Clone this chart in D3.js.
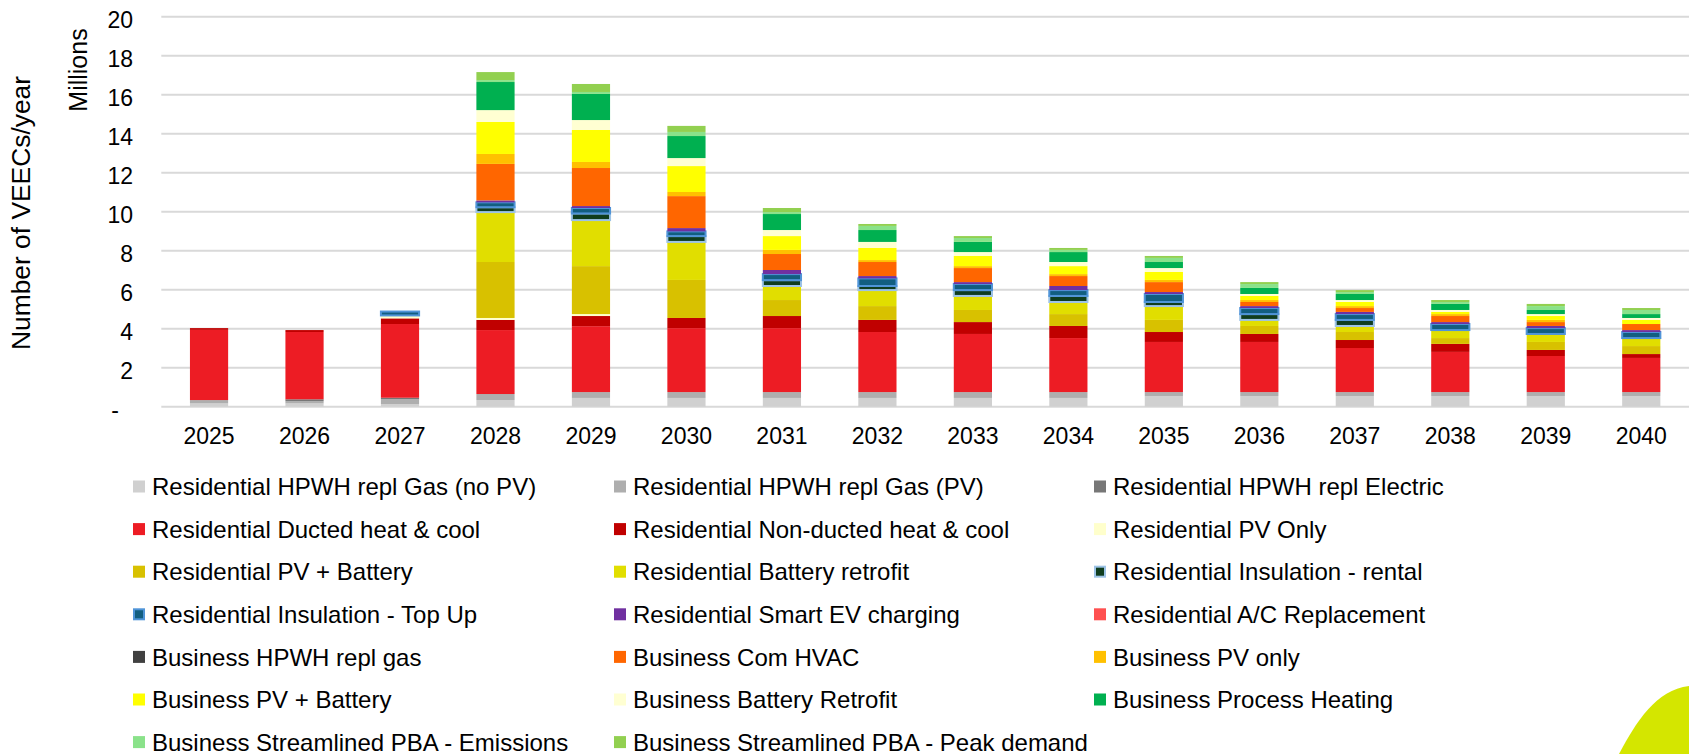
<!DOCTYPE html>
<html>
<head>
<meta charset="utf-8">
<script src="https://cdn.jsdelivr.net/npm/d3@7"></script>
<style>
  html, body { margin: 0; padding: 0; background: #ffffff; }
  svg { display: block; font-family: "Liberation Sans", Arial, sans-serif; }
</style>
</head>
<body>
<svg id="chart" width="1689" height="754"></svg>
<script>
// ---- Data (millions of VEECs per year) ----
const years = ["2025","2026","2027","2028","2029","2030","2031","2032","2033","2034","2035","2036","2037","2038","2039","2040"];
const yTicks = [0, 2, 4, 6, 8, 10, 12, 14, 16, 18, 20];

const resHpwhGasNoPv   = [0.17, 0.17, 0.13, 0.34, 0.45, 0.45, 0.45, 0.45, 0.45, 0.45, 0.55, 0.55, 0.55, 0.55, 0.55, 0.55];
const resHpwhGasPv     = [0.17, 0.11, 0.26, 0.31, 0.30, 0.30, 0.30, 0.30, 0.30, 0.30, 0.20, 0.20, 0.20, 0.20, 0.20, 0.20];
const resHpwhElectric  = [0.00, 0.10, 0.07, 0, 0, 0, 0, 0, 0, 0, 0, 0, 0, 0, 0, 0];
const resDucted        = [3.60, 3.45, 3.78, 3.28, 3.38, 3.28, 3.28, 3.08, 2.98, 2.77, 2.57, 2.57, 2.26, 2.06, 1.85, 1.75];
const resNonDucted     = [0.09, 0.10, 0.29, 0.52, 0.52, 0.52, 0.62, 0.62, 0.61, 0.62, 0.51, 0.41, 0.41, 0.41, 0.31, 0.20];
const resPvOnly        = [0, 0, 0.15, 0.10, 0.10, 0, 0, 0, 0, 0, 0, 0, 0, 0, 0, 0];
const resPvBattery     = [0, 0, 0, 2.87, 2.46, 1.95, 0.82, 0.71, 0.62, 0.61, 0.62, 0.41, 0.41, 0.30, 0.41, 0.41];
const resBattRetrofit  = [0, 0, 0, 2.56, 2.36, 1.95, 0.72, 0.82, 0.72, 0.62, 0.71, 0.31, 0.31, 0.41, 0.41, 0.41];
const resInsulRental   = [0, 0, 0, 0.25, 0.34, 0.30, 0.30, 0.21, 0.30, 0.31, 0.21, 0.30, 0.31, 0, 0, 0];
const resInsulTopUp    = [0, 0, 0.20, 0.25, 0.28, 0.24, 0.31, 0.39, 0.31, 0.30, 0.41, 0.31, 0.30, 0.31, 0.30, 0.31];
const resSmartEv       = [0, 0, 0, 0.10, 0.10, 0.17, 0.21, 0.12, 0.10, 0.21, 0.10, 0.10, 0.11, 0.10, 0.11, 0.10];
const resAcReplace     = [0, 0, 0, 0, 0, 0, 0, 0, 0, 0, 0, 0, 0, 0, 0, 0];
const busHpwhGas       = [0, 0, 0, 0, 0, 0, 0, 0, 0, 0, 0, 0, 0, 0, 0, 0];
const busComHvac       = [0, 0, 0, 1.87, 1.95, 1.64, 0.82, 0.72, 0.72, 0.51, 0.51, 0.21, 0.20, 0.31, 0.20, 0.31];
const busPvOnly        = [0, 0, 0, 0.51, 0.31, 0.21, 0.21, 0.10, 0.10, 0.10, 0.11, 0.10, 0.10, 0.10, 0.11, 0];
const busPvBattery     = [0, 0, 0, 1.64, 1.64, 1.33, 0.71, 0.62, 0.52, 0.41, 0.41, 0.21, 0.21, 0.11, 0.20, 0.21];
const busBattRetrofit  = [0, 0, 0, 0.61, 0.51, 0.41, 0.31, 0.31, 0.20, 0.21, 0.20, 0.10, 0.10, 0.10, 0.10, 0.10];
const busProcessHeat   = [0, 0, 0, 1.44, 1.34, 1.13, 0.82, 0.61, 0.52, 0.51, 0.31, 0.31, 0.31, 0.31, 0.21, 0.20];
const busPbaEmissions  = [0, 0, 0, 0.10, 0.10, 0.21, 0.10, 0.21, 0.20, 0.11, 0.21, 0.20, 0.10, 0.10, 0.20, 0.21];
const busPbaPeak       = [0, 0, 0, 0.41, 0.41, 0.31, 0.21, 0.10, 0.10, 0.10, 0.10, 0.10, 0.10, 0.10, 0.11, 0.10];

const seriesNames = [
  "Residential HPWH repl Gas (no PV)", "Residential HPWH repl Gas (PV)", "Residential HPWH repl Electric",
  "Residential Ducted heat & cool", "Residential Non-ducted heat & cool", "Residential PV Only",
  "Residential PV + Battery", "Residential Battery retrofit", "Residential Insulation - rental",
  "Residential Insulation - Top Up", "Residential Smart EV charging", "Residential A/C Replacement",
  "Business HPWH repl gas", "Business Com HVAC", "Business PV only",
  "Business PV + Battery", "Business Battery Retrofit", "Business Process Heating",
  "Business Streamlined PBA - Emissions", "Business Streamlined PBA - Peak demand"
];
const seriesValues = [
  resHpwhGasNoPv, resHpwhGasPv, resHpwhElectric, resDucted, resNonDucted, resPvOnly,
  resPvBattery, resBattRetrofit, resInsulRental, resInsulTopUp, resSmartEv, resAcReplace,
  busHpwhGas, busComHvac, busPvOnly, busPvBattery, busBattRetrofit, busProcessHeat,
  busPbaEmissions, busPbaPeak
];

// ---- Styles ----
const fills = [
  "#d0d0d0", "#aeaeae", "#777777", "#ed1c24", "#c00000", "#ffffcc",
  "#d8c100", "#e1de00", "#0f3d1e", "#125e80", "#7030a0", "#ff5050",
  "#404040", "#ff6600", "#ffc000", "#ffff00", "#ffffd2", "#00b050",
  "#8ae28a", "#92d050"
];
const strokes = {8: "#9dc3e6", 9: "#4f94d8"};

const svg = d3.select("#chart");
const W = 1689, H = 754;
const plotLeft = 161.3, plotRight = 1689, plotTop = 16.7, plotBottom = 406.7;

// ---- Table for stacking ----
const table = years.map((yr, i) => {
  const row = {year: yr};
  seriesNames.forEach((n, s) => { row[n] = seriesValues[s][i]; });
  return row;
});
const stacked = d3.stack().keys(seriesNames)(table);

const x = d3.scaleBand().domain(years).range([plotLeft, plotRight]).paddingInner(0.6).paddingOuter(0.3);
const y = d3.scaleLinear().domain([0, 20]).range([plotBottom, plotTop]);

// decorative shape bottom-right
svg.append("path")
  .attr("d", "M1619,754 C1636,722 1656,690 1689,686 L1689,754 Z")
  .attr("fill", "#d4e600");

// gridlines
svg.append("g").selectAll("line").data(yTicks).join("line")
  .attr("x1", plotLeft).attr("x2", plotRight)
  .attr("y1", d => y(d)).attr("y2", d => y(d))
  .attr("stroke", "#d9d9d9").attr("stroke-width", 2);

// y axis labels
const yAxis = d3.axisLeft(y).tickValues(yTicks).tickSize(0).tickPadding(0)
  .tickFormat(d => d === 0 ? "-" : String(d));
const yg = svg.append("g").attr("transform", `translate(133,0)`).call(yAxis);
yg.select(".domain").remove();
yg.selectAll("text")
  .attr("font-family", "Liberation Sans, Arial, sans-serif")
  .attr("font-size", 23).attr("fill", "#000")
  .attr("dy", "0.47em")
  .attr("x", d => d === 0 ? -14 : 0);

// x axis labels
const xAxis = d3.axisBottom(x).tickSize(0).tickPadding(0);
const xg = svg.append("g").attr("transform", `translate(0,${plotBottom})`).call(xAxis);
xg.select(".domain").remove();
xg.selectAll("text")
  .attr("font-family", "Liberation Sans, Arial, sans-serif")
  .attr("font-size", 23).attr("fill", "#000")
  .attr("dy", 0).attr("y", 37);

// bars
const groups = svg.append("g").selectAll("g").data(stacked).join("g")
  .attr("fill", (d, i) => fills[i])
  .attr("stroke", (d, i) => strokes[i] || "none")
  .attr("stroke-width", (d, i) => strokes[i] ? 2 : 0);
groups.selectAll("rect").data(d => d.filter(p => (p[1] - p[0]) > 0.0001).map(p => ({p, year: p.data.year})))
  .join("rect")
  .attr("x", d => x(d.year))
  .attr("width", x.bandwidth())
  .attr("y", d => y(d.p[1]))
  .attr("height", d => y(d.p[0]) - y(d.p[1]));

// axis titles
svg.append("text")
  .attr("transform", "translate(30,213) rotate(-90)")
  .attr("text-anchor", "middle")
  .attr("font-size", 25)
  .attr("textLength", 274).attr("lengthAdjust", "spacingAndGlyphs")
  .text("Number of VEECs/year");
svg.append("text")
  .attr("transform", "translate(87,70) rotate(-90)")
  .attr("text-anchor", "middle")
  .attr("font-size", 25)
  .text("Millions");

// legend
const colX = [133, 614, 1094];
const rowY0 = 486.5, rowStep = 42.6;
const leg = svg.append("g").selectAll("g").data(seriesNames).join("g")
  .attr("transform", (d, i) => `translate(${colX[i % 3]},${rowY0 + Math.floor(i / 3) * rowStep})`);
leg.append("rect")
  .attr("x", (d, i) => strokes[i] ? 1 : 0)
  .attr("y", (d, i) => strokes[i] ? -5 : -6)
  .attr("width", (d, i) => strokes[i] ? 10 : 12)
  .attr("height", (d, i) => strokes[i] ? 10 : 12)
  .attr("fill", (d, i) => fills[i])
  .attr("stroke", (d, i) => strokes[i] || "none")
  .attr("stroke-width", (d, i) => strokes[i] ? 2 : 0);
leg.append("text")
  .attr("x", 19).attr("y", 0).attr("dy", "0.36em")
  .attr("font-size", 24).attr("fill", "#000")
  .text(d => d);
</script>
</body>
</html>
